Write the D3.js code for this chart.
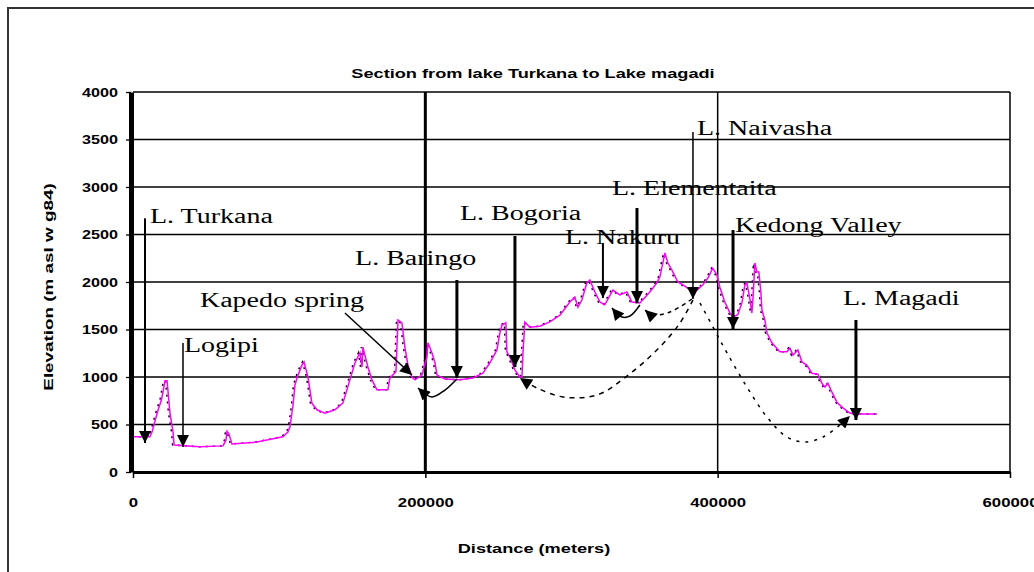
<!DOCTYPE html>
<html>
<head>
<meta charset="utf-8">
<script src="https://cdn.jsdelivr.net/npm/d3@7"></script>
<style>
body { margin: 0; background: #fff; }
</style>
</head>
<body>
<div id="chart"></div>
<script>
// profile along the rift, distance in meters, elevation in m
var distance = [0, 11600, 13000, 17100, 19500, 21900, 23300, 25300, 27400, 28100, 45800, 61600, 63600, 64300, 65700, 67700,
  84800, 102600, 106000, 107400, 109500, 110800, 112200, 115600, 117000, 119700, 122400, 125900, 131300, 138200, 143600,
  148400, 151900, 155300, 156700, 157300, 160700, 163500, 166900, 174400, 175800, 179900, 181300, 184000, 186000, 188100,
  190800, 192900, 197700, 201100, 201800, 204500, 206600, 208000, 213400, 223700, 232600, 239400, 244200, 249000, 251000,
  252400, 255100, 255800, 257900, 261300, 264700, 266100, 266800, 268100, 271500, 278400, 285200, 292100, 298900, 302300,
  304400, 307100, 310500, 312600, 316000, 319400, 322800, 328300, 333100, 337900, 341300, 346800, 353600, 358400, 360500,
  363900, 366000, 368700, 372800, 376200, 379700, 385800, 389900, 393300, 396700, 399500, 401500, 404900, 408400, 410400,
  413800, 416600, 418600, 420000, 422000, 423400, 424100, 425500, 426800, 428200, 429600, 430300, 432300, 433700, 437100,
  442600, 447400, 449400, 451500, 454900, 457600, 461000, 464500, 468600, 471300, 473400, 475400, 478200, 481600, 485700,
  490500, 493900, 509000];
var elevation = [370, 370, 420, 650, 760, 960, 960, 620, 420, 285, 265, 275, 335, 430, 400, 295,
  315, 370, 420, 475, 705, 915, 990, 1125, 1160, 1000, 725, 655, 620, 655, 725,
  970, 1150, 1255, 1105, 1315, 1105, 970, 865, 865, 990, 1055, 1600, 1570, 1315, 1125,
  1000, 970, 1020, 1210, 1360, 1255, 1150, 1020, 980, 970, 990, 1040, 1150, 1285, 1465,
  1545, 1570, 1265, 1210, 1075, 1000, 1000, 1255, 1580, 1525, 1535, 1580, 1650, 1790, 1840,
  1735, 1810, 1990, 2020, 1895, 1790, 1760, 1915, 1865, 1895, 1790, 1780, 1895, 1990, 2055,
  2305, 2200, 2125, 2000, 1970, 1935, 1915, 1970, 2040, 2145, 2075, 1945, 1790, 1675, 1630,
  1655, 1780, 1970, 1990, 1830, 1675, 1810, 2200, 2105, 2105, 1885, 1705, 1600, 1465, 1360,
  1265, 1265, 1305, 1230, 1285, 1160, 1125, 1040, 1030, 935, 895, 935, 840, 735, 675,
  620, 610, 610];

var xTicks = [0, 200000, 400000, 600000];
var yTicks = [0, 500, 1000, 1500, 2000, 2500, 3000, 3500, 4000];

// place names with label anchor (left edge, baseline) in data units
var places = ["L. Turkana", "Logipi", "Kapedo spring", "L. Baringo", "L. Bogoria", "L. Nakuru",
  "L. Elementaita", "L. Naivasha", "Kedong Valley", "L. Magadi"];
var labelDist = [11600, 34900, 45800, 151900, 223700, 295500, 327700, 385800, 411800, 485700];
var labelElev = [2620, 1263, 1737, 2179, 2653, 2400, 2916, 3547, 2526, 1758];
// pointer arrows: from -> tip
var arrowFrom = [[8200, 2670], [34200, 1358], [145000, 1674], [221600, 2021], [261300, 2484], [321500, 2410],
  [344800, 2779], [383100, 3579], [410500, 2547], [494600, 1600]];
var arrowTo = [[8200, 305], [34200, 263], [190900, 1021], [221600, 989], [261300, 1105], [321500, 1832],
  [344800, 1779], [383100, 1821], [410500, 1505], [494600, 547]];

// flow connections between lakes
var flowBaringo = [[221600, 980], [213400, 863], [204500, 790], [195000, 885]];
var flowNakuru = [[346800, 1758], [340000, 1642], [334500, 1632], [327700, 1726]];
var flowElementaita = [[382400, 1821], [367400, 1684], [355700, 1653], [350300, 1705]];
var flowBogoria = [[383100, 1810], [374200, 1568], [360500, 1316], [337900, 1010], [317400, 810],
  [294200, 790], [276400, 884], [264700, 989]];
var flowMagadi = [[387900, 1779], [396800, 1526], [406400, 1253], [420000, 895], [433700, 579],
  [447400, 368], [459700, 316], [472000, 368], [483600, 495], [490500, 589]];

var W = 1034, H = 572;
var margin = {top: 92, right: 24, bottom: 100, left: 133};

var svg = d3.select("#chart").append("svg")
  .attr("width", W)
  .attr("height", H)
  .style("font-family", "'Liberation Sans', Arial, sans-serif");

var x = d3.scaleLinear().domain([0, 600000]).range([margin.left, 1010]);
var y = d3.scaleLinear().domain([0, 4000]).range([H - margin.bottom, margin.top]);

// outer frame
svg.append("rect")
  .attr("x", 8).attr("y", 8)
  .attr("width", 1200).attr("height", 800)
  .attr("fill", "none")
  .attr("stroke", "#333")
  .attr("stroke-width", 2);

var defs = svg.append("defs");
defs.append("marker")
  .attr("id", "head")
  .attr("viewBox", "0 0 10 10")
  .attr("refX", 10).attr("refY", 5)
  .attr("markerWidth", 13).attr("markerHeight", 12)
  .attr("markerUnits", "userSpaceOnUse")
  .attr("orient", "auto")
  .append("path")
  .attr("d", "M0,0L10,5L0,10z")
  .attr("fill", "#000");

// gridlines
svg.append("g").selectAll("line")
  .data(yTicks.filter(function(d) { return d > 0; }))
  .enter().append("line")
  .attr("x1", x(0)).attr("x2", x(600000))
  .attr("y1", function(d) { return y(d); })
  .attr("y2", function(d) { return y(d); })
  .attr("stroke", "#000")
  .attr("stroke-width", 1.3);

svg.append("g").selectAll("line")
  .data(xTicks.filter(function(d) { return d > 0; }))
  .enter().append("line")
  .attr("x1", function(d) { return x(d); })
  .attr("x2", function(d) { return x(d); })
  .attr("y1", y(4000)).attr("y2", y(0))
  .attr("stroke", "#000")
  .attr("stroke-width", function(d) { return d === 200000 ? 3 : 1.5; });

// profile
var profile = distance.map(function(d, i) { return [d, elevation[i]]; });
var line = d3.line()
  .x(function(d) { return x(d[0]); })
  .y(function(d) { return y(d[1]); });

svg.append("path")
  .datum(profile)
  .attr("d", line)
  .attr("transform", "translate(-1.5,0)")
  .attr("fill", "none")
  .attr("stroke", "#000")
  .attr("stroke-width", 1.5)
  .attr("stroke-dasharray", "2,5");

svg.append("path")
  .datum(profile)
  .attr("d", line)
  .attr("fill", "none")
  .attr("stroke", "#ff00ff")
  .attr("stroke-width", 1.5);

// axes
var yAxis = svg.append("g")
  .attr("transform", "translate(" + (margin.left - 2) + ",0)")
  .call(d3.axisLeft(y).tickValues(yTicks).tickSize(5).tickSizeOuter(0).tickFormat(d3.format("d")));
yAxis.select(".domain").attr("stroke-width", 5);
yAxis.selectAll(".tick line").attr("stroke-width", 1.3);
yAxis.selectAll("text")
  .attr("x", 0).attr("dy", null)
  .attr("transform", "translate(-13,4) scale(1.35,1)")
  .style("font-size", "12px")
  .style("font-weight", "bold")
  .attr("fill", "#000");

var xAxis = svg.append("g")
  .attr("transform", "translate(0," + y(0) + ")")
  .call(d3.axisBottom(x).tickValues(xTicks).tickSize(6).tickSizeOuter(0).tickFormat(d3.format("d")));
xAxis.select(".domain").attr("stroke-width", 3);
xAxis.selectAll(".tick line").attr("stroke-width", 1.5);
xAxis.selectAll("text")
  .attr("y", 0).attr("dy", null)
  .attr("transform", "translate(0,35) scale(1.4,1)")
  .style("font-size", "12px")
  .style("font-weight", "bold")
  .attr("fill", "#000");

// titles
svg.append("text")
  .attr("transform", "translate(533,78) scale(1.4,1)")
  .attr("text-anchor", "middle")
  .style("font-size", "13px")
  .style("font-weight", "bold")
  .text("Section from lake Turkana to Lake magadi");

svg.append("text")
  .attr("transform", "translate(534,553) scale(1.4,1)")
  .attr("text-anchor", "middle")
  .style("font-size", "13px")
  .style("font-weight", "bold")
  .text("Distance (meters)");

svg.append("text")
  .attr("transform", "translate(53,287) rotate(-90) scale(1.45,1)")
  .attr("text-anchor", "middle")
  .style("font-size", "13px")
  .style("font-weight", "bold")
  .text("Elevation (m asl w g84)");

// flow curves
var curve = d3.line()
  .x(function(d) { return x(d[0]); })
  .y(function(d) { return y(d[1]); })
  .curve(d3.curveCatmullRom.alpha(0.5));

var flows = [
  {pts: flowBaringo, dash: null},
  {pts: flowNakuru, dash: null},
  {pts: flowElementaita, dash: "4,4"},
  {pts: flowBogoria, dash: "5,5"},
  {pts: flowMagadi, dash: "3,6"}
];
svg.append("g").selectAll("path")
  .data(flows)
  .enter().append("path")
  .attr("d", function(d) { return curve(d.pts); })
  .attr("fill", "none")
  .attr("stroke", "#000")
  .attr("stroke-width", 1.5)
  .attr("stroke-dasharray", function(d) { return d.dash; })
  .attr("marker-end", "url(#head)");

// pointer arrows
var weights = [2, 1.5, 1.5, 3, 3, 2, 3, 1.5, 3, 3];
svg.append("g").selectAll("line")
  .data(places)
  .enter().append("line")
  .attr("x1", function(d, i) { return x(arrowFrom[i][0]); })
  .attr("y1", function(d, i) { return y(arrowFrom[i][1]); })
  .attr("x2", function(d, i) { return x(arrowTo[i][0]); })
  .attr("y2", function(d, i) { return y(arrowTo[i][1]); })
  .attr("stroke", "#000")
  .attr("stroke-width", function(d, i) { return weights[i]; })
  .attr("marker-end", "url(#head)");

// place labels
svg.append("g").selectAll("text")
  .data(places)
  .enter().append("text")
  .attr("transform", function(d, i) {
    return "translate(" + x(labelDist[i]) + "," + y(labelElev[i]) + ") scale(1.4,1)";
  })
  .style("font-family", "'Liberation Serif', 'Times New Roman', serif")
  .style("font-size", "20px")
  .attr("fill", "#000")
  .text(function(d) { return d; });
</script>
</body>
</html>
